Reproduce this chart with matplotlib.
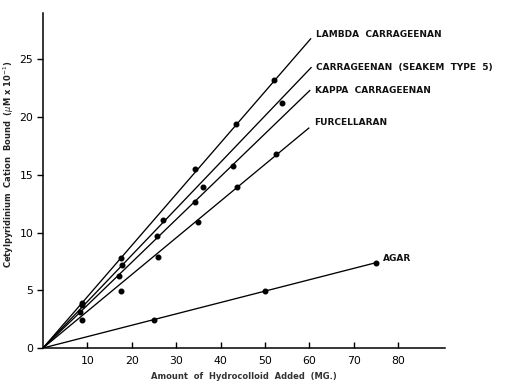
import numpy as np
import matplotlib.pyplot as plt

# hydrocolloid added (mg) vs cetylpyridinium bound, one series per polysaccharide
series_names = ["LAMBDA  CARRAGEENAN", "CARRAGEENAN  (SEAKEM  TYPE  5)",
                "KAPPA  CARRAGEENAN", "FURCELLARAN", "AGAR"]

lambda_mg = [8.7, 17.5, 34.2, 43.4, 52.0]
lambda_bound = [3.9, 7.8, 15.5, 19.4, 23.2]

seakem_mg = [8.7, 17.7, 27.0, 36.0, 53.9]
seakem_bound = [3.7, 7.2, 11.1, 13.9, 21.2]

kappa_mg = [8.3, 17.1, 25.6, 34.2, 42.9]
kappa_bound = [3.1, 6.2, 9.7, 12.6, 15.8]

furcellaran_mg = [8.7, 17.6, 26.0, 35.0, 43.8, 52.6]
furcellaran_bound = [2.4, 4.9, 7.9, 10.9, 13.9, 16.8]

agar_mg = [25.0, 50.0, 75.0]
agar_bound = [2.4, 4.95, 7.4]

# fitted lines through the origin: slope and where each line stops
fit_slopes = [0.444, 0.402, 0.371, 0.318, 0.0985]
fit_end_mg = [60.4, 60.5, 60.2, 60.0, 75.0]

x_ticks = [10, 20, 30, 40, 50, 60, 70, 80]
y_ticks = [0, 5, 10, 15, 20, 25]

xs = [lambda_mg, seakem_mg, kappa_mg, furcellaran_mg, agar_mg]
ys = [lambda_bound, seakem_bound, kappa_bound, furcellaran_bound, agar_bound]
label_offsets = [(3.5, 3), (3.5, 0), (3.5, 0), (3.5, 4), (5, 3)]

fig = plt.figure(figsize=(5.15, 3.81), dpi=100)
ax = fig.add_axes([0.0835, 0.0866, 0.78, 0.879])

for name, x, y, k, xe, off in zip(series_names, xs, ys, fit_slopes, fit_end_mg, label_offsets):
    fx = np.array([0.0, xe])
    ax.plot(fx, k * fx, color="black", lw=0.95, solid_capstyle="butt")
    ax.plot(x, y, "o", color="black", ms=3.3, mec="black")
    ax.annotate(name, xy=(xe, k * xe), xytext=off, textcoords="offset points",
                fontsize=6.5, fontweight="bold", color="#111111",
                ha="left", va="center")

ax.set_xlim(0, 90.5)
ax.set_ylim(0, 29)
ax.spines["top"].set_visible(False)
ax.spines["right"].set_visible(False)
for s in ("left", "bottom"):
    ax.spines[s].set_linewidth(1.1)

ax.set_xticks(x_ticks)
ax.set_yticks(y_ticks)
ax.tick_params(axis="x", direction="in", length=4, width=1, labelsize=7.8, pad=6)
ax.tick_params(axis="y", direction="out", length=4, width=1, labelsize=7.8, pad=3)

ax.set_xlabel("Amount  of  Hydrocolloid  Added  (MG.)", fontsize=6, fontweight="bold",
              color="#333333", labelpad=4)
ax.set_ylabel("Cetylpyridinium  Cation  Bound  ($\\mu$M x 10$^{-1}$)", fontsize=6,
              fontweight="bold", color="#222222", labelpad=8)
ax.yaxis.set_label_coords(-0.068, 0.55)

fig.savefig("out.png", dpi=100)
